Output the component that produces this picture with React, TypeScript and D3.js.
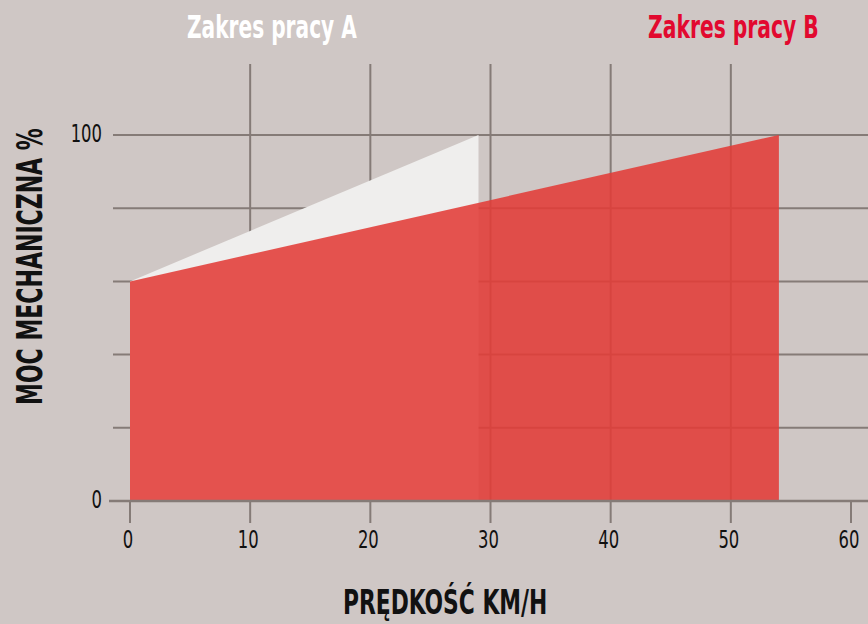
import React from 'react';
import * as d3 from 'd3';

// speed (km/h) and mechanical power (%) for both working ranges
const rangeA = [
  { speed: 0, power: 60 },
  { speed: 29, power: 100 },
];
const rangeB = [
  { speed: 0, power: 60 },
  { speed: 54, power: 100 },
];
const xTicks = [0, 10, 20, 30, 40, 50, 60];
const yGrid = [20, 40, 60, 80, 100];
const yLabels = [0, 100];

const W = 868;
const H = 624;
const bg = '#cfc7c5';
const gridColor = '#857b77';
const narrow = '"Liberation Sans Narrow", "DejaVu Sans Condensed", "Roboto Condensed", sans-serif';

const App = () => {
  const x = d3.scaleLinear().domain([0, 60]).range([130, 851]);
  const y = d3.scaleLinear().domain([0, 100]).range([501, 135]);

  const area = d3
    .area<{ speed: number; power: number }>()
    .x((d) => x(d.speed))
    .y0(y(0))
    .y1((d) => y(d.power));

  return (
    <div style={{ position: 'fixed', left: 0, top: 0 }}>
      <svg width={W} height={H} style={{ display: 'block', background: bg }}>
        <rect width={W} height={H} fill={bg} />

        {/* horizontal grid */}
        {yGrid.map((v) => (
          <line key={'h' + v} x1={113} x2={W} y1={y(v)} y2={y(v)} stroke={gridColor} strokeWidth={2} />
        ))}
        {/* vertical grid, only the inner ticks reach the top */}
        {xTicks.map((v) => (
          <line
            key={'v' + v}
            x1={x(v)}
            x2={x(v)}
            y1={v === 0 || v === 60 ? y(0) : 64}
            y2={523}
            stroke={gridColor}
            strokeWidth={2}
          />
        ))}

        {/* areas */}
        <path d={area(rangeA) || ''} fill="#efeeed" />
        <path d={area(rangeB) || ''} fill="#e23c38" fillOpacity={0.88} />

        {/* x axis line */}
        <line x1={109} x2={W} y1={y(0)} y2={y(0)} stroke={gridColor} strokeWidth={2.5} />

        {/* tick labels, squeezed horizontally */}
        {xTicks.map((v) => (
          <text
            key={'xt' + v}
            transform={`translate(${x(v) - 2},548) scale(0.73,1)`}
            textAnchor="middle"
            fontFamily={narrow}
            fontSize={25}
            fill="#111"
          >
            {v}
          </text>
        ))}
        {yLabels.map((v) => (
          <text
            key={'yt' + v}
            transform={`translate(102,${y(v) + 7}) scale(0.73,1)`}
            textAnchor="end"
            fontFamily={narrow}
            fontSize={25}
            fill="#111"
          >
            {v}
          </text>
        ))}

        {/* range titles */}
        <text
          transform="translate(187,38) scale(0.7,1)"
          fontFamily={narrow}
          fontWeight="bold"
          fontSize={32}
          fill="#ffffff"
        >
          Zakres pracy A
        </text>
        <text
          transform="translate(648,38) scale(0.705,1)"
          fontFamily={narrow}
          fontWeight="bold"
          fontSize={32}
          fill="#e2092f"
        >
          Zakres pracy B
        </text>

        {/* axis titles */}
        <text
          transform="translate(42,405) rotate(-90) scale(0.68,1)"
          fontFamily={narrow}
          fontWeight="bold"
          fontSize={36}
          fill="#111"
        >
          MOC MECHANICZNA %
        </text>
        <text
          transform="translate(343,614) scale(0.735,1)"
          fontFamily={narrow}
          fontWeight="bold"
          fontSize={33}
          fill="#111"
        >
          PRĘDKOŚĆ KM/H
        </text>
      </svg>
    </div>
  );
};

export default App;
